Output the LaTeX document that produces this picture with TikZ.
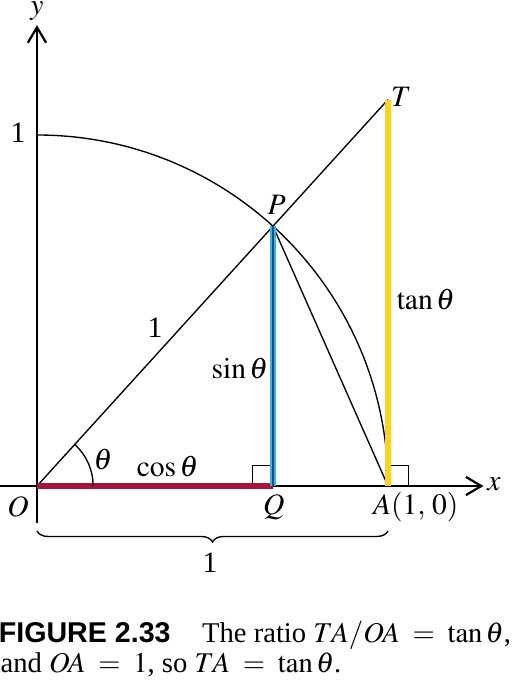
\documentclass[tikz,border=0pt]{standalone}
\usepackage{mathptmx}
\usepackage{fontspec}
\setmainfont{Liberation Serif}
\newfontfamily\capsans{Liberation Sans}
\usepackage{tikz}
\usetikzlibrary{positioning, arrows.meta, decorations.pathreplacing, calc}

\definecolor{cosred}{RGB}{166,22,58}
\definecolor{sinblue}{RGB}{60,176,226}
\definecolor{sindark}{RGB}{20,80,130}
\definecolor{tanyellow}{RGB}{255,208,30}

\tikzset{
    axis/.style={line width=0.5pt, -{Straight Barb[length=2.2mm, width=2.6mm, line width=0.9pt]}},
    thin line/.style={line width=0.55pt},
    lbl/.style={font=\fontsize{12}{14}\selectfont, inner sep=1pt},
    caplbl/.style={font=\fontsize{11.6}{14}\selectfont, inner sep=0pt},
    rightbox/.style={line width=0.5pt}
}

\begin{document}
\begin{tikzpicture}[x=5cm, y=5cm]
        \useasboundingbox (-0.1054,-0.5954) rectangle (1.3704,1.3846);

        % points
        \coordinate (O) at (0,0);
        \coordinate (A) at (1,0);
        \coordinate (P) at ({cos(47.75)},{sin(47.75)});
        \coordinate (Q) at ({cos(47.75)},0);
        \coordinate (T) at (1,{tan(47.75)});
        \coordinate (Y1) at (0,1);
        \coordinate (xl) at (-0.105,0);
        \coordinate (xr) at (1.272,0);
        \coordinate (yb) at (0,-0.105);
        \coordinate (yt) at (0,1.313);
        \coordinate (bl) at (0,-0.128);
        \coordinate (br) at (1,-0.128);

        % axes
        \draw[axis] (xl) -- (xr);
        \draw[axis] (yb) -- (yt);
        \node[lbl] (xlab) at (1.302,0.004) {$x$};
        \node[lbl] (ylab) at (0,1.352) {$y$};

        % unit circle and lines
        \draw[thin line] (Y1) arc[start angle=90, end angle=0, radius=1];
        \draw[thin line] (O) -- (T);
        \draw[thin line] (P) -- (A);

        % right angles
        \draw[rightbox] (Q) rectangle ++(-0.058,0.058);
        \draw[rightbox] (A) rectangle ++(0.058,0.058);

        % coloured sides
        \draw[cosred, line width=2.2pt] (O) -- (Q);
        \draw[sinblue, line width=2.4pt] (Q) -- (P);
        \draw[sindark, line width=0.8pt] (Q) -- (P);
        \draw[tanyellow, line width=2.2pt] (A) -- (T);

        % angle
        \draw[thin line] (0.16,0) arc[start angle=0, end angle=47.75, radius=0.16];

        % labels
        \node[lbl] (theta) at (0.188,0.074) {$\theta$};
        \node[lbl] (coslab) at (0.372,0.056) {$\cos\theta$};
        \node[lbl] (sinlab) at (0.578,0.336) {$\sin\theta$};
        \node[lbl] (hyplab) at (0.336,0.452) {1};
        \node[lbl] (tanlab) at (1.108,0.530) {$\tan\theta$};
        \node[lbl] (Plab) at (0.683,0.80) {$P$};
        \node[lbl] (Tlab) at (1.038,1.108) {$T$};
        \node[lbl] (Olab) at (-0.054,-0.058) {$O$};
        \node[lbl] (Qlab) at (0.675,-0.060) {$Q$};
        \node[lbl] (Alab) at (1.079,-0.060) {$A(1,\,0)$};
        \node[lbl] (onelab) at (-0.054,1.006) {1};

        % brace
        \draw[thin line, decorate, decoration={brace, amplitude=4.5pt, mirror}] (bl) -- (br);
        \node[lbl] (bracelab) at (0.493,-0.218) {1};

        % caption
        \node[caplbl, anchor=base west] (cap1) at (-0.110,-0.447)
            {{\capsans\bfseries FIGURE 2.33}\hspace{1.1em}The ratio $TA/OA\;=\;\tan\theta$,};
        \node[caplbl, anchor=base west] (cap2) at (-0.105,-0.530)
            {and $OA\;=\;1$, so $TA\;=\;\tan\theta$.};
    \end{tikzpicture}
\end{document}
